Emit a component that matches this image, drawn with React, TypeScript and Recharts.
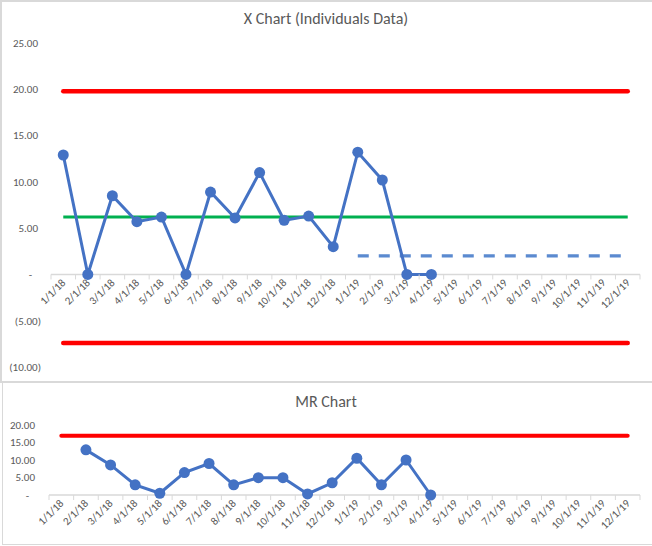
import React from 'react';
import { ComposedChart, Line, XAxis, YAxis, ReferenceLine } from 'recharts';

const months = [
  '1/1/18', '2/1/18', '3/1/18', '4/1/18', '5/1/18', '6/1/18',
  '7/1/18', '8/1/18', '9/1/18', '10/1/18', '11/1/18', '12/1/18',
  '1/1/19', '2/1/19', '3/1/19', '4/1/19', '5/1/19', '6/1/19',
  '7/1/19', '8/1/19', '9/1/19', '10/1/19', '11/1/19', '12/1/19',
];

// individual values (only the first 16 months are filled)
const xValues = [12.9, 0, 8.5, 5.7, 6.2, 0, 8.9, 6.1, 11.0, 5.85, 6.3, 3.0, 13.2, 10.2, 0, 0];
// moving ranges, first month has none
const mrValues = [null, 12.9, 8.6, 2.9, 0.5, 6.4, 9.0, 2.9, 4.95, 4.95, 0.3, 3.5, 10.5, 2.9, 10.0, 0];

const xAverage = 6.2;
const xUpperLimit = 19.8;
const xLowerLimit = -7.4;
const shiftLevel = 2.0;
const shiftStart = '1/1/19';
const mrUpperLimit = 16.9;

const xTicks = [-10, -5, 0, 5, 10, 15, 20, 25];
const mrTicks = [0, 5, 10, 15, 20];

const data = months.map((month, i) => ({
  month,
  x: xValues[i] ?? null,
  mr: mrValues[i] ?? null,
}));

const FONT = 'Carlito, Lato, "Open Sans", sans-serif';
const TEXT = '#595959';
const GRAY = '#d9d9d9';
const BLUE = '#4472C4';
const RED = '#FF0000';
const GREEN = '#00B050';

const W = 652;

const fmt = (v: number) =>
  v === 0 ? '-' : v < 0 ? `(${Math.abs(v).toFixed(2)})` : v.toFixed(2);

const ValueTick = (props: any) => {
  const { x, y, payload } = props;
  const v = payload.value;
  const shift = v > 0 ? 3 : v === 0 ? 9 : 0;
  return (
    <text x={x - shift} y={y} dy="0.35em" textAnchor="end" fontSize={11} fill={TEXT} fontFamily={FONT}>
      {fmt(v)}
    </text>
  );
};

// Excel puts the category axis where y = 0, so labels are lifted up from the plot bottom
const MonthTick = (props: any) => {
  const { x, y, payload, index, lift, band } = props;
  const zy = y - lift;
  const tx = x + 3;
  const ty = zy + 9;
  return (
    <g>
      <line x1={x - band / 2} x2={x - band / 2} y1={zy} y2={zy + 5} stroke={GRAY} strokeWidth={1} />
      {index === months.length - 1 && (
        <line x1={x + band / 2} x2={x + band / 2} y1={zy} y2={zy + 5} stroke={GRAY} strokeWidth={1} />
      )}
      <text
        x={tx}
        y={ty}
        transform={`rotate(-45, ${tx}, ${ty})`}
        textAnchor="end"
        fontSize={11}
        fill={TEXT}
        fontFamily={FONT}
      >
        {payload.value}
      </text>
    </g>
  );
};

const titleStyle: React.CSSProperties = {
  position: 'absolute',
  left: 0,
  width: W,
  textAlign: 'center',
  fontFamily: FONT,
  fontSize: 16,
  lineHeight: '20px',
  color: TEXT,
};

const box = (left: number, top: number, width: number, height: number): React.CSSProperties => ({
  position: 'absolute',
  left,
  top,
  width,
  height,
  background: GRAY,
});

export default function App() {
  // X chart geometry
  const xMargin = { top: 43, right: 12, bottom: 13, left: 0 };
  const xH = 381;
  const xYW = 51;
  const xPlotH = xH - xMargin.top - xMargin.bottom - 1;
  const xDomain = [-10, 25];
  const xLift = (xPlotH * (0 - xDomain[0])) / (xDomain[1] - xDomain[0]);
  const xBand = (W - xMargin.left - xMargin.right - xYW) / months.length;

  // MR chart geometry
  const mrMargin = { top: 44, right: 12, bottom: 48, left: 0 };
  const mrH = 163;
  const mrYW = 49;
  const mrBand = (W - mrMargin.left - mrMargin.right - mrYW) / months.length;

  const first = months[0];
  const last = months[months.length - 1];

  return (
    <div style={{ position: 'absolute', left: 0, top: 0, width: W, height: 546, background: '#fff', overflow: 'hidden' }}>
      <div style={box(0, 0, W, 1.5)} />
      <div style={box(0, 0, 1.5, 382)} />
      <div style={box(0, 380.5, W, 2)} />
      <div style={box(2, 382, 1, 162)} />
      <div style={box(2, 543.5, W, 1)} />

      <div style={{ ...titleStyle, top: 9 }}>X Chart (Individuals Data)</div>
      <div style={{ position: 'absolute', left: 0, top: 0 }}>
        <ComposedChart width={W} height={xH} data={data} margin={xMargin}>
          <XAxis
            dataKey="month"
            scale="band"
            height={1}
            interval={0}
            axisLine={false}
            tickLine={false}
            tickSize={0}
            tickMargin={0}
            tick={<MonthTick lift={xLift} band={xBand} />}
          />
          <YAxis
            type="number"
            width={xYW}
            domain={xDomain}
            ticks={xTicks}
            interval={0}
            axisLine={false}
            tickLine={false}
            tickMargin={4}
            tick={<ValueTick />}
          />
          <ReferenceLine y={0} stroke={GRAY} strokeWidth={1.5} />
          <ReferenceLine
            segment={[{ x: first, y: xUpperLimit }, { x: last, y: xUpperLimit }]}
            stroke={RED}
            strokeWidth={4.5}
            strokeLinecap="round"
          />
          <ReferenceLine
            segment={[{ x: first, y: xLowerLimit }, { x: last, y: xLowerLimit }]}
            stroke={RED}
            strokeWidth={4.5}
            strokeLinecap="round"
          />
          <ReferenceLine
            segment={[{ x: first, y: xAverage }, { x: last, y: xAverage }]}
            stroke={GREEN}
            strokeWidth={3}
          />
          <ReferenceLine
            segment={[{ x: shiftStart, y: shiftLevel }, { x: last, y: shiftLevel }]}
            stroke="#5B8AD0"
            strokeWidth={3.2}
            strokeDasharray="11 10"
          />
          <Line
            dataKey="x"
            type="linear"
            stroke={BLUE}
            strokeWidth={3}
            dot={{ r: 5.5, fill: BLUE, stroke: BLUE, strokeWidth: 0 }}
            activeDot={false}
            isAnimationActive={false}
          />
        </ComposedChart>
      </div>

      <div style={{ ...titleStyle, top: 392 }}>MR Chart</div>
      <div style={{ position: 'absolute', left: 0, top: 381 }}>
        <ComposedChart width={W} height={mrH} data={data} margin={mrMargin}>
          <XAxis
            dataKey="month"
            scale="band"
            height={1}
            interval={0}
            axisLine={false}
            tickLine={false}
            tickSize={0}
            tickMargin={0}
            tick={<MonthTick lift={0} band={mrBand} />}
          />
          <YAxis
            type="number"
            width={mrYW}
            domain={[0, 20]}
            ticks={mrTicks}
            interval={0}
            axisLine={false}
            tickLine={false}
            tickMargin={5}
            tick={<ValueTick />}
          />
          <ReferenceLine y={0} stroke={GRAY} strokeWidth={1.5} />
          <ReferenceLine
            segment={[{ x: first, y: mrUpperLimit }, { x: last, y: mrUpperLimit }]}
            stroke={RED}
            strokeWidth={4}
            strokeLinecap="round"
          />
          <Line
            dataKey="mr"
            type="linear"
            stroke={BLUE}
            strokeWidth={3}
            dot={{ r: 5.5, fill: BLUE, stroke: BLUE, strokeWidth: 0 }}
            activeDot={false}
            isAnimationActive={false}
          />
        </ComposedChart>
      </div>
    </div>
  );
}
